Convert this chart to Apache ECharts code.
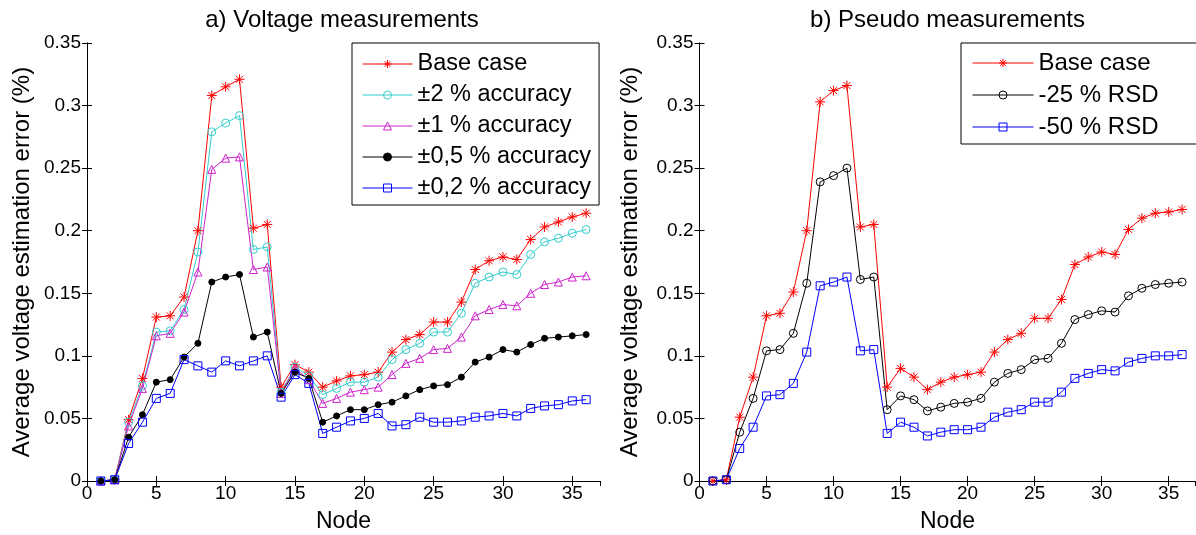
<!DOCTYPE html>
<html>
<head>
<meta charset="utf-8">
<script src="https://cdn.jsdelivr.net/npm/echarts@6/dist/echarts.min.js"></script>
<style>
  html, body { margin: 0; padding: 0; background: #fff; }
  #chart { width: 1196px; height: 535px; }
</style>
</head>
<body>
<div id="chart"></div>
<script>
// node numbers (x axis)
const nodes = [1, 2, 3, 4, 5, 6, 7, 8, 9, 10, 11, 12, 13, 14, 15, 16, 17, 18,
  19, 20, 21, 22, 23, 24, 25, 26, 27, 28, 29, 30, 31, 32, 33, 34, 35, 36]

// a) voltage measurements
const voltBase = [0, 0.001, 0.049, 0.082, 0.131, 0.132, 0.147, 0.200, 0.308, 0.315, 0.321, 0.202, 0.205, 0.075, 0.093, 0.087, 0.075, 0.080,
  0.084, 0.085, 0.087, 0.103, 0.113, 0.117, 0.127, 0.127, 0.143, 0.169, 0.176, 0.179, 0.177, 0.193, 0.203, 0.207, 0.211, 0.214]
const voltAcc2 = [0, 0.001, 0.047, 0.076, 0.119, 0.120, 0.137, 0.183, 0.279, 0.286, 0.292, 0.185, 0.187, 0.071, 0.091, 0.084, 0.069, 0.074,
  0.079, 0.079, 0.083, 0.097, 0.105, 0.110, 0.119, 0.119, 0.134, 0.158, 0.163, 0.167, 0.165, 0.181, 0.191, 0.194, 0.198, 0.201]
const voltAcc1 = [0, 0.001, 0.044, 0.074, 0.116, 0.118, 0.135, 0.167, 0.249, 0.258, 0.259, 0.169, 0.171, 0.070, 0.090, 0.081, 0.062, 0.066,
  0.071, 0.073, 0.075, 0.085, 0.094, 0.098, 0.105, 0.106, 0.115, 0.132, 0.137, 0.141, 0.140, 0.150, 0.157, 0.159, 0.163, 0.164]
const voltAcc05 = [0, 0.001, 0.035, 0.053, 0.079, 0.081, 0.099, 0.110, 0.159, 0.163, 0.165, 0.115, 0.119, 0.070, 0.087, 0.082, 0.047, 0.052,
  0.057, 0.057, 0.061, 0.063, 0.068, 0.073, 0.076, 0.077, 0.083, 0.095, 0.099, 0.105, 0.103, 0.109, 0.114, 0.115, 0.116, 0.117]
const voltAcc02 = [0, 0.001, 0.030, 0.047, 0.066, 0.070, 0.097, 0.092, 0.087, 0.096, 0.092, 0.096, 0.100, 0.067, 0.085, 0.078, 0.038, 0.043,
  0.048, 0.050, 0.054, 0.044, 0.045, 0.051, 0.047, 0.047, 0.048, 0.051, 0.052, 0.054, 0.052, 0.058, 0.060, 0.061, 0.064, 0.065]

// b) pseudo measurements
const pseudoBase = [0, 0.001, 0.051, 0.083, 0.132, 0.134, 0.151, 0.200, 0.303, 0.312, 0.316, 0.203, 0.205, 0.075, 0.090, 0.083, 0.073, 0.079,
  0.083, 0.085, 0.087, 0.103, 0.113, 0.118, 0.130, 0.130, 0.145, 0.173, 0.179, 0.183, 0.181, 0.201, 0.210, 0.214, 0.215, 0.217]
const pseudoRsd25 = [0, 0.001, 0.039, 0.066, 0.104, 0.105, 0.118, 0.158, 0.239, 0.244, 0.250, 0.161, 0.163, 0.057, 0.068, 0.065, 0.056, 0.059,
  0.062, 0.063, 0.066, 0.079, 0.086, 0.089, 0.097, 0.098, 0.110, 0.129, 0.133, 0.136, 0.135, 0.148, 0.154, 0.157, 0.158, 0.159]
const pseudoRsd50 = [0, 0.001, 0.026, 0.043, 0.068, 0.069, 0.078, 0.103, 0.156, 0.159, 0.163, 0.104, 0.105, 0.038, 0.047, 0.043, 0.036, 0.039,
  0.041, 0.041, 0.043, 0.051, 0.055, 0.057, 0.063, 0.063, 0.071, 0.082, 0.086, 0.089, 0.088, 0.095, 0.098, 0.100, 0.100, 0.101]

const FONT = 'Arial, "Liberation Sans", Helvetica, sans-serif'
const STAR = 'path://M5,0L5,10M0,5L10,5M1.5,1.5L8.5,8.5M1.5,8.5L8.5,1.5'

function pairs (ys) {
  return nodes.map((n, i) => [n, ys[i]])
}

function makeSeries (name, ys, color, symbol, size, filled, idx) {
  return {
    name: name,
    type: 'line',
    xAxisIndex: idx,
    yAxisIndex: idx,
    data: pairs(ys),
    symbol: symbol,
    symbolSize: size,
    showAllSymbol: true,
    animation: false,
    lineStyle: { color: color, width: 1 },
    itemStyle: {
      color: filled ? color : 'rgba(255,255,255,0)',
      borderColor: color,
      borderWidth: 1
    },
    emphasis: { disabled: true }
  }
}

function xAxes (gi) {
  const base = {
    type: 'value',
    gridIndex: gi,
    min: 0,
    max: 37,
    interval: 5,
    splitLine: { show: false },
    axisLine: { show: true, lineStyle: { color: '#000', width: 1 } },
    axisTick: { show: true, inside: true, length: 5, lineStyle: { color: '#000' } }
  }
  return [
    Object.assign({}, base, {
      position: 'bottom',
      name: 'Node',
      nameLocation: 'middle',
      nameGap: 29,
      nameTextStyle: { fontSize: 23, color: '#000', fontFamily: FONT },
      axisLabel: {
        fontSize: 19, color: '#000', fontFamily: FONT, margin: 3,
        showMaxLabel: false,
        formatter: v => (v % 5 === 0 ? String(v) : '')
      }
    }),
    Object.assign({}, base, { position: 'top', axisLabel: { show: false } })
  ]
}

function yAxes (gi, gap) {
  const base = {
    type: 'value',
    gridIndex: gi,
    min: 0,
    max: 0.35,
    interval: 0.05,
    splitLine: { show: false },
    axisLine: { show: true, lineStyle: { color: '#000', width: 1 } },
    axisTick: { show: true, inside: true, length: 5, lineStyle: { color: '#000' } }
  }
  return [
    Object.assign({}, base, {
      position: 'left',
      name: 'Average voltage estimation error (%)',
      nameLocation: 'middle',
      nameRotate: 90,
      nameGap: gap,
      nameTextStyle: { fontSize: 24, color: '#000', fontFamily: FONT },
      axisLabel: { fontSize: 19, color: '#000', fontFamily: FONT, margin: 6 }
    }),
    Object.assign({}, base, { position: 'right', axisLabel: { show: false } })
  ]
}

const chart = echarts.init(document.getElementById('chart'), null, { renderer: 'canvas' })

// bottom/left axes plus top/right box axes for each grid
const xa = xAxes(0).concat(xAxes(1))
const ya = yAxes(0, 53).concat(yAxes(1, 57))

const option = {
  backgroundColor: '#fff',
  animation: false,
  textStyle: { fontFamily: FONT },
  title: [
    {
      text: 'a) Voltage measurements',
      left: 342, top: 8, padding: 0, textAlign: 'center',
      textStyle: { fontSize: 24, fontWeight: 'normal', color: '#000', fontFamily: FONT }
    },
    {
      text: 'b) Pseudo measurements',
      left: 947.5, top: 8, padding: 0, textAlign: 'center',
      textStyle: { fontSize: 24, fontWeight: 'normal', color: '#000', fontFamily: FONT }
    }
  ],
  grid: [
    { left: 87, top: 43, width: 513, height: 438, outerBoundsMode: 'none', containLabel: false },
    { left: 699.5, top: 43, width: 496, height: 438, outerBoundsMode: 'none', containLabel: false }
  ],
  legend: [
    {
      data: ['Base case', '±2 % accuracy', '±1 % accuracy', '±0,5 % accuracy', '±0,2 % accuracy'],
      orient: 'vertical',
      left: 352, top: 43,
      itemWidth: 50, itemHeight: 10, itemGap: 7,
      padding: [9, 8, 5, 10],
      borderColor: '#000', borderWidth: 1, backgroundColor: '#fff',
      selectedMode: false,
      lineStyle: { width: 1 },
      itemStyle: { borderWidth: 1 },
      textStyle: { fontSize: 23.5, lineHeight: 24, color: '#000', fontFamily: FONT }
    },
    {
      data: ['Base case', '-25 % RSD', '-50 % RSD'],
      orient: 'vertical',
      left: 961, top: 43,
      itemWidth: 61, itemHeight: 10, itemGap: 8,
      padding: [8, 41, 5, 11],
      borderColor: '#000', borderWidth: 1, backgroundColor: '#fff',
      selectedMode: false,
      lineStyle: { width: 1 },
      itemStyle: { borderWidth: 1 },
      textStyle: { fontSize: 24, lineHeight: 24, color: '#000', fontFamily: FONT }
    }
  ],
  xAxis: xa,
  yAxis: ya,
  series: [
    makeSeries('Base case', voltBase, '#ff0000', STAR, 10, false, 0),
    makeSeries('±2 % accuracy', voltAcc2, '#33cccc', 'circle', 8, false, 0),
    makeSeries('±1 % accuracy', voltAcc1, '#cc22cc', 'triangle', 8, false, 0),
    makeSeries('±0,5 % accuracy', voltAcc05, '#000000', 'circle', 6, true, 0),
    makeSeries('±0,2 % accuracy', voltAcc02, '#0000ff', 'rect', 8, false, 0),
    makeSeries('Base case', pseudoBase, '#ff0000', STAR, 10, false, 2),
    makeSeries('-25 % RSD', pseudoRsd25, '#000000', 'circle', 8, false, 2),
    makeSeries('-50 % RSD', pseudoRsd50, '#0000ff', 'rect', 8, false, 2)
  ]
}

chart.setOption(option)
</script>
</body>
</html>
